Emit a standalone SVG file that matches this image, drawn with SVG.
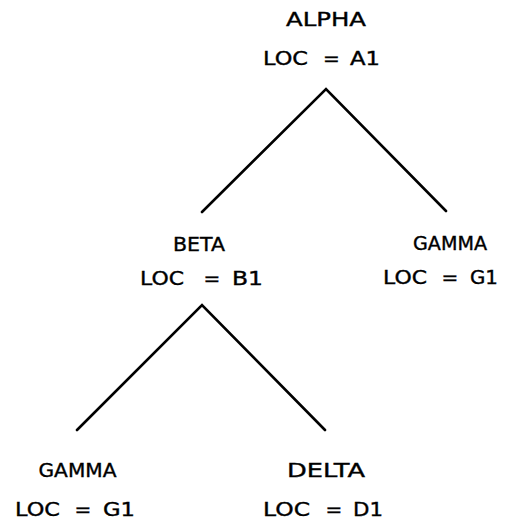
<svg xmlns="http://www.w3.org/2000/svg" width="508" height="521" viewBox="0 0 508 521">
  <style>
    .lbl { font-family: "DejaVu Sans", "Liberation Sans", sans-serif; font-size: 20px; fill: #000; stroke: #000; stroke-width: 0.4; }
    .mid { text-anchor: middle; }
    .edge { fill: none; stroke: #000; stroke-width: 2.6; stroke-linecap: round; stroke-linejoin: miter; }
  </style>
  <rect width="508" height="521" fill="#fff"/>

  <g id="connectors">
    <polyline class="edge" points="202,212 326,89 446,211"/>
    <polyline class="edge" points="77,430 202,305 325,430"/>
  </g>

  <g id="alpha">
    <text class="lbl mid" x="326" y="26" textLength="80" lengthAdjust="spacingAndGlyphs">ALPHA</text>
    <text class="lbl" x="263" y="65" textLength="45" lengthAdjust="spacingAndGlyphs">LOC</text>
    <text class="lbl mid" x="331.5" y="65">=</text>
    <text class="lbl" x="350" y="65" textLength="30" lengthAdjust="spacingAndGlyphs">A1</text>
  </g>

  <g id="beta">
    <text class="lbl mid" x="199" y="251" textLength="52" lengthAdjust="spacingAndGlyphs">BETA</text>
    <text class="lbl" x="140" y="285" textLength="44" lengthAdjust="spacingAndGlyphs">LOC</text>
    <text class="lbl mid" x="212" y="285">=</text>
    <text class="lbl" x="232" y="285" textLength="31" lengthAdjust="spacingAndGlyphs">B1</text>
  </g>

  <g id="gamma-right">
    <text class="lbl mid" x="450" y="250" textLength="74" lengthAdjust="spacingAndGlyphs">GAMMA</text>
    <text class="lbl" x="383" y="284" textLength="44" lengthAdjust="spacingAndGlyphs">LOC</text>
    <text class="lbl mid" x="450" y="284">=</text>
    <text class="lbl" x="470" y="284" textLength="28" lengthAdjust="spacingAndGlyphs">G1</text>
  </g>

  <g id="gamma-left">
    <text class="lbl mid" x="77.5" y="477" textLength="78" lengthAdjust="spacingAndGlyphs">GAMMA</text>
    <text class="lbl" x="15" y="516" textLength="45" lengthAdjust="spacingAndGlyphs">LOC</text>
    <text class="lbl mid" x="83" y="516">=</text>
    <text class="lbl" x="103" y="516" textLength="32" lengthAdjust="spacingAndGlyphs">G1</text>
  </g>

  <g id="delta">
    <text class="lbl mid" x="326" y="477" textLength="78" lengthAdjust="spacingAndGlyphs">DELTA</text>
    <text class="lbl" x="263" y="516" textLength="47" lengthAdjust="spacingAndGlyphs">LOC</text>
    <text class="lbl mid" x="334" y="516">=</text>
    <text class="lbl" x="353" y="516" textLength="30" lengthAdjust="spacingAndGlyphs">D1</text>
  </g>
</svg>
